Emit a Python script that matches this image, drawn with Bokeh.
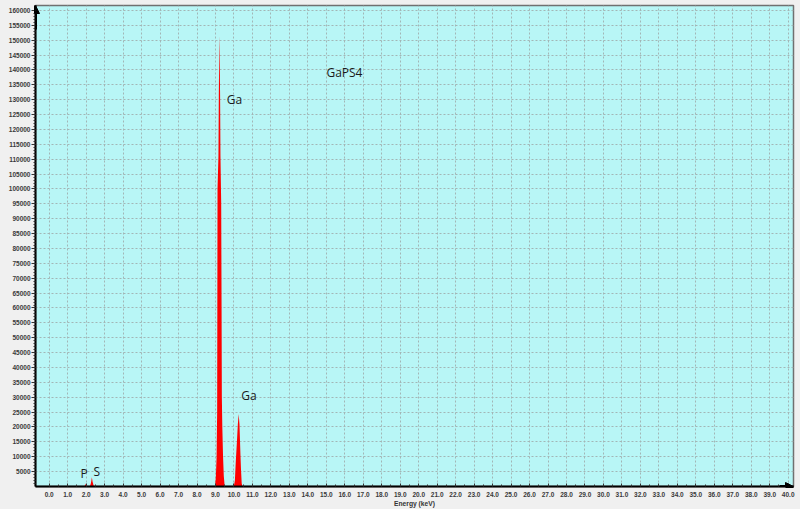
import math
from bokeh.plotting import figure
from bokeh.models import (FixedTicker, PrintfTickFormatter, Label, Arrow, NormalHead)
from bokeh.embed import file_html
from bokeh.resources import INLINE

# ---- data ----
energy_kev = [0.0,
              1.90, 1.96, 1.99, 2.02, 2.08,
              2.20, 2.26, 2.31, 2.35, 2.42,
              7.40, 7.47, 7.54,
              7.95, 8.03, 8.10,
              8.97, 9.02, 9.06, 9.09, 9.10, 9.11, 9.16, 9.18, 9.205, 9.215, 9.225,
              9.25, 9.27, 9.31, 9.33, 9.345, 9.37, 9.41, 9.45, 9.50,
              9.99, 10.05, 10.10, 10.16, 10.21, 10.255, 10.30, 10.35, 10.38, 10.42, 10.46,
              40.0]
counts = [0,
          0, 600, 1000, 600, 0,
          0, 1200, 3100, 1500, 0,
          0, 350, 0,
          0, 300, 0,
          0, 3000, 10000, 25000, 60000, 100000, 111000, 131500, 147000, 151500, 147000,
          131500, 111000, 95000, 60000, 30000, 20000, 10000, 3500, 0,
          0, 2000, 8500, 15000, 20800, 24400, 20800, 11000, 6000, 1000, 0,
          0]

x_tick_values = list(range(0, 41))
y_tick_values = list(range(5000, 160001, 5000))

annot_text = ["P", "S", "Ga", "Ga", "GaPS4"]
annot_x = [1.89, 2.58, 10.03, 10.81, 15.98]
annot_y = [4300, 5200, 130000, 30500, 139300]

X_MIN, X_MAX = -0.742, 40.287
Y_MIN, Y_MAX = 0, 161677

p = figure(width=800, height=509, x_range=(X_MIN, X_MAX), y_range=(Y_MIN, Y_MAX),
           output_backend="svg", toolbar_location=None,
           min_border_left=35, min_border_right=7, min_border_top=5, min_border_bottom=22)

p.background_fill_color = "#b8f6f6"
p.border_fill_color = "#f0f0f0"
p.outline_line_color = "#707070"
p.outline_line_width = 1.5

# spectrum
p.varea(x=energy_kev, y1=0, y2=counts, fill_color="#ff0000")

# axes
xa = p.xaxis[0]
xa.ticker = FixedTicker(ticks=x_tick_values,
                        minor_ticks=[v + 0.5 for v in x_tick_values])
xa.formatter = PrintfTickFormatter(format="%.1f")
xa.axis_line_color = "black"
xa.axis_line_width = 2
xa.major_tick_in = 3
xa.major_tick_out = 0
xa.minor_tick_in = 2
xa.minor_tick_out = 0
xa.major_tick_line_color = "#333333"
xa.minor_tick_line_color = "#333333"
xa.major_label_text_font = "Liberation Sans"
xa.major_label_text_font_size = "6.5px"
xa.major_label_text_font_style = "bold"
xa.major_label_text_color = "#3a3a3a"
xa.major_label_standoff = 5
xa.axis_label = "Energy (keV)"
xa.axis_label_text_font = "Liberation Sans"
xa.axis_label_text_font_size = "6.7px"
xa.axis_label_text_font_style = "bold"
xa.axis_label_text_color = "#333333"
xa.axis_label_standoff = 0

ya = p.yaxis[0]
ya.ticker = FixedTicker(ticks=y_tick_values,
                        minor_ticks=list(range(1000, 161000, 1000)))
ya.formatter = PrintfTickFormatter(format="%d")
ya.axis_line_color = "black"
ya.axis_line_width = 2
ya.major_tick_in = 0
ya.major_tick_out = 4
ya.minor_tick_in = 0
ya.minor_tick_out = 2
ya.major_tick_line_color = "#333333"
ya.minor_tick_line_color = "#333333"
ya.major_label_text_font = "Liberation Sans"
ya.major_label_text_font_size = "6.5px"
ya.major_label_text_font_style = "bold"
ya.major_label_text_color = "#3a3a3a"
ya.major_label_standoff = 1

# grids follow the axis tickers
p.xgrid.ticker = xa.ticker
p.ygrid.ticker = ya.ticker
for g in (p.xgrid, p.ygrid):
    g.grid_line_color = "#a2b6b6"
    g.grid_line_dash = "2 2"
    g.grid_line_width = 1

p.add_layout(Label(x=-30, y=236, x_units="screen", y_units="screen",
                   text="Counts", angle=math.pi / 2, text_align="center",
                   text_baseline="middle", text_font="Liberation Sans",
                   text_font_size="6.7px", text_font_style="bold", text_color="#333333"))

# axis arrows
p.add_layout(Arrow(end=NormalHead(size=8, fill_color="black", line_color="black"),
                   x_start=X_MIN, y_start=Y_MAX * 0.95, x_end=X_MIN, y_end=Y_MAX,
                   line_color="black", line_width=3))
p.add_layout(Arrow(end=NormalHead(size=8, fill_color="black", line_color="black"),
                   x_start=X_MAX - 0.75, y_start=Y_MIN, x_end=X_MAX, y_end=Y_MIN,
                   line_color="black", line_width=3))

# peak annotations
for t, ex, cy in zip(annot_text, annot_x, annot_y):
    p.add_layout(Label(x=ex, y=cy, text=t, text_align="center", text_baseline="middle",
                       text_font="Open Sans", text_font_size="12px", text_color="#1a1a1a"))

html = file_html(p, INLINE)
html = html.replace("</head>", "<style>html, body { background-color: #f0f0f0; }</style></head>", 1)
open("out.html", "w").write(html)
